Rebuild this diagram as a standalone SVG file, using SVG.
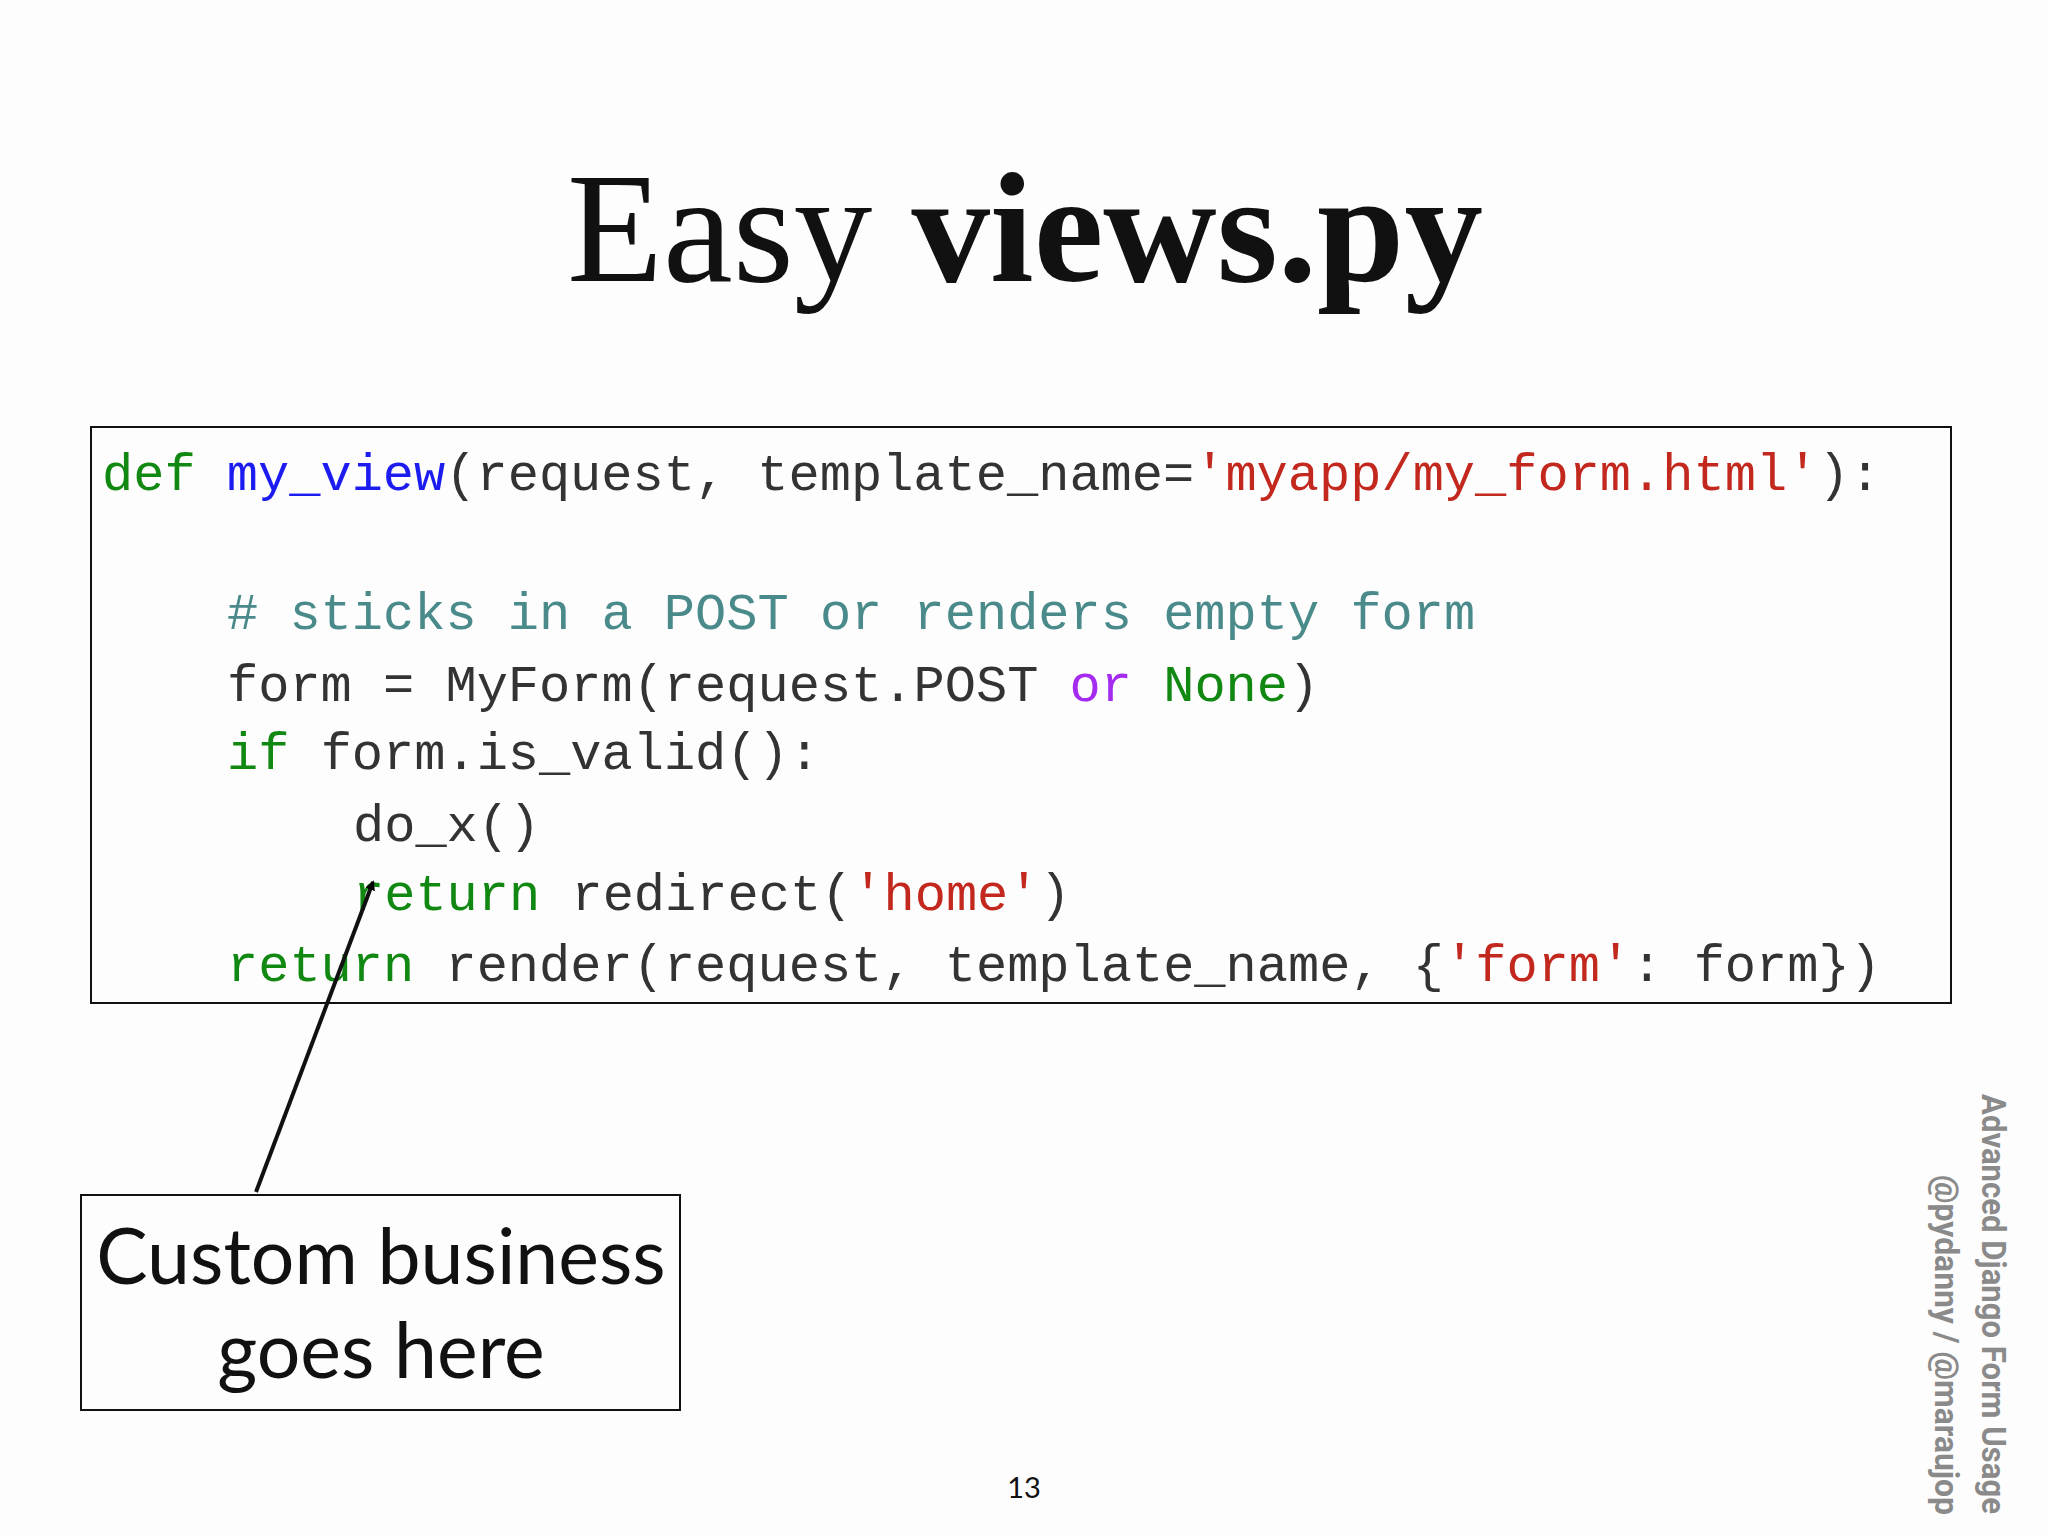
<svg xmlns="http://www.w3.org/2000/svg" width="2048" height="1536" viewBox="0 0 2048 1536">
<style>
.code{font-family:"Liberation Mono","DejaVu Sans Mono",monospace;font-size:52px;fill:#333;white-space:pre}
.k{fill:#118811}.f{fill:#1c1cf0}.s{fill:#c2281e}.c{fill:#4a8a8a}.o{fill:#a52bf0}
.side{font-family:"Roboto","Liberation Sans",sans-serif;font-weight:bold;font-size:34px;fill:#8a8a8a}
</style>
<defs><marker id="ah" markerWidth="10" markerHeight="10" refX="8" refY="5" orient="auto" markerUnits="userSpaceOnUse" viewBox="0 0 10 10"><path d="M0,0 L10,5 L0,10 z" fill="#000"/></marker></defs>
<rect width="2048" height="1536" fill="#fdfdfd"/>
<text x="1025" y="281" text-anchor="middle" font-family="Liberation Serif,serif" font-size="157" fill="#111">Easy <tspan font-weight="bold">views.py</tspan></text>
<g id="code">
<rect x="91" y="427" width="1860" height="576" fill="#fdfdfd" stroke="#111" stroke-width="2"/>
<text class="code" xml:space="preserve"><tspan x="102" y="490"><tspan class="k">def</tspan> <tspan class="f">my_view</tspan>(request, template_name=<tspan class="s">'myapp/my_form.html'</tspan>):</tspan><tspan x="227" y="629" class="c"># sticks in a POST or renders empty form</tspan><tspan x="227" y="701">form = MyForm(request.POST <tspan class="o">or</tspan> <tspan class="k">None</tspan>)</tspan><tspan x="227" y="769"><tspan class="k">if</tspan> form.is_valid():</tspan><tspan x="353" y="841">do_x()</tspan><tspan x="353" y="910"><tspan class="k">return</tspan> redirect(<tspan class="s">'home'</tspan>)</tspan><tspan x="227" y="981"><tspan class="k">return</tspan> render(request, template_name, {<tspan class="s">'form'</tspan>: form})</tspan></text>
</g>
<g id="callout">
<rect x="81" y="1195" width="599" height="215" fill="#fdfdfd" stroke="#111" stroke-width="2"/>
<text x="381" y="1284" text-anchor="middle" font-family="Lato,'Open Sans',sans-serif" font-size="77" fill="#111">Custom business</text>
<text x="381" y="1378" text-anchor="middle" font-family="Lato,'Open Sans',sans-serif" font-size="77" fill="#111">goes here</text>
</g>
<g id="connectors">
<line x1="256" y1="1192" x2="373" y2="882" stroke="#111" stroke-width="4" marker-end="url(#ah)"/>
</g>
<text x="1024" y="1498" text-anchor="middle" font-family="Lato,sans-serif" font-size="29" fill="#111">13</text>
<text class="side" transform="translate(1982,1094) rotate(90)" textLength="420" lengthAdjust="spacingAndGlyphs">Advanced Django Form Usage</text>
<text class="side" transform="translate(1935,1175) rotate(90)" textLength="340" lengthAdjust="spacingAndGlyphs">@pydanny / @maraujop</text>
</svg>
